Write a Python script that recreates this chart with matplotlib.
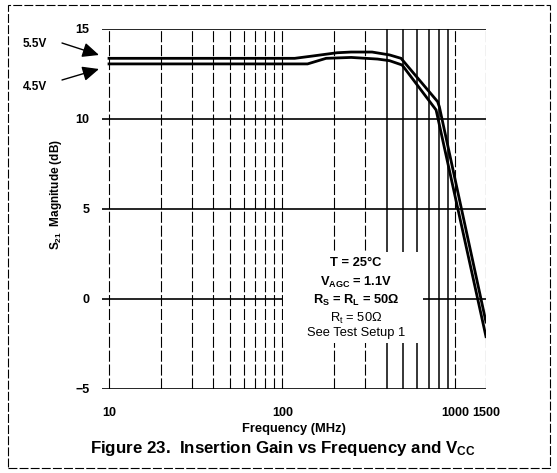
import matplotlib
matplotlib.use("Agg")
import matplotlib.pyplot as plt
from matplotlib.patches import Rectangle, FancyArrowPatch
import numpy as np

plt.rcParams['font.family'] = ['Liberation Sans', 'DejaVu Sans']
plt.rcParams['mathtext.fontset'] = 'custom'
plt.rcParams['mathtext.rm'] = 'Liberation Sans'
plt.rcParams['mathtext.bf'] = 'Liberation Sans:bold'

# Data
freq_55 = [10, 118, 150, 207, 250, 330, 416, 485, 789, 807, 1500]
gain_55 = [13.37, 13.37, 13.5, 13.68, 13.72, 13.72, 13.56, 13.37, 10.96, 10.68, -1.28]
freq_45 = [10, 140, 179, 250, 355, 416, 492, 773, 1500]
gain_45 = [13.06, 13.06, 13.37, 13.42, 13.33, 13.24, 13.0, 10.5, -2.09]

yticks = [-5, 0, 5, 10, 15]
ytick_labels = ['\u22125', '0', '5', '10', '15']
xtick_vals = [10, 100, 1000, 1500]
xtick_labels = ['10', '100', '1000', '1500']
grid_dashed = [10, 20, 30, 40, 50, 60, 70, 80, 90, 100, 200, 300, 1000, 1500]
grid_solid = [400, 500, 600, 700, 800, 900]

fig = plt.figure(figsize=(5.57, 4.73), dpi=100)
ax = fig.add_axes([0.183, 0.1776, 0.6895, 0.7611])
ax.set_xscale('log')
ax.set_xlim(9.1, 1500)
ax.set_ylim(-5, 15)

for s in ax.spines.values():
    s.set_visible(False)

for y in yticks:
    ax.axhline(y, color='black', lw=1.2, zorder=1)
for x in grid_dashed:
    ax.axvline(x, color='black', lw=0.8, ls=(0, (10, 2.5)), zorder=1)
for x in grid_solid:
    ax.axvline(x, color='black', lw=1.1, zorder=1)

ax.plot(freq_55, gain_55, color='black', lw=2.0, zorder=3, solid_joinstyle='miter')
ax.plot(freq_45, gain_45, color='black', lw=2.0, zorder=3, solid_joinstyle='miter')

ax.set_yticks(yticks)
ax.set_yticklabels(ytick_labels)
ax.set_xticks(xtick_vals)
ax.set_xticklabels(xtick_labels)
ax.xaxis.set_minor_locator(matplotlib.ticker.NullLocator())
ax.tick_params(axis='both', length=0, labelsize=9)
ax.tick_params(axis='y', pad=9)
ax.tick_params(axis='x', pad=13)
for lab in ax.get_xticklabels() + ax.get_yticklabels():
    lab.set_fontweight('bold')

ax.set_xlabel('Frequency (MHz)', fontsize=9.3, fontweight='bold')
ax.xaxis.set_label_coords(0.5, -0.095)
ax.set_ylabel(r'$\mathregular{S_{21}}$  Magnitude (dB)', fontsize=8.5, fontweight='bold')
ax.yaxis.set_label_coords(-0.099, 0.54)

# white box behind conditions text
ax.add_patch(Rectangle((0.471, 0.128), 0.365, 0.252, transform=ax.transAxes,
                       facecolor='white', edgecolor='none', zorder=2))
tx = 0.661
fs = 9.3
ax.text(tx, 0.350, 'T = 25°C', transform=ax.transAxes, ha='center', va='center',
        fontsize=fs, fontweight='bold', zorder=4)
ax.text(tx, 0.297, r'$\mathregular{V_{AGC}}$ = 1.1V', transform=ax.transAxes, ha='center', va='center',
        fontsize=fs, fontweight='bold', zorder=4)
ax.text(tx, 0.247, r'$\mathregular{R_S}$ = $\mathregular{R_L}$ = 50Ω', transform=ax.transAxes, ha='center', va='center',
        fontsize=fs, fontweight='bold', zorder=4)
ax.text(tx, 0.197, r'$\mathregular{R_t}$ = 50Ω', transform=ax.transAxes, ha='center', va='center',
        fontsize=fs, zorder=4)
ax.text(tx, 0.156, 'See Test Setup 1', transform=ax.transAxes, ha='center', va='center',
        fontsize=fs, zorder=4)

# voltage arrows
fig.text(23 / 557, 1 - 44 / 473, '5.5V', fontsize=8.5, fontweight='bold', va='center', ha='left')
fig.text(23 / 557, 1 - 87 / 473, '4.5V', fontsize=8.5, fontweight='bold', va='center', ha='left')
fig.add_artist(FancyArrowPatch((62 / 557, 1 - 43 / 473), (99 / 557, 1 - 55 / 473),
               transform=fig.transFigure, arrowstyle='-|>,head_length=10,head_width=4.5',
               color='black', lw=1.0, shrinkA=0, shrinkB=0))
fig.add_artist(FancyArrowPatch((62 / 557, 1 - 80 / 473), (99 / 557, 1 - 69 / 473),
               transform=fig.transFigure, arrowstyle='-|>,head_length=10,head_width=4.5',
               color='black', lw=1.0, shrinkA=0, shrinkB=0))

fig.text(283 / 557, 1 - 448 / 473, r'Figure 23.  Insertion Gain vs Frequency and $\mathregular{V_{CC}}$',
         ha='center', va='center', fontsize=12.2, fontweight='bold')

fig.add_artist(Rectangle((8 / 557, 5 / 473), 542 / 557, 463 / 473, transform=fig.transFigure,
                         fill=False, edgecolor='black', lw=0.8, ls=(0, (8, 2))))

fig.savefig('out.png', dpi=100)
